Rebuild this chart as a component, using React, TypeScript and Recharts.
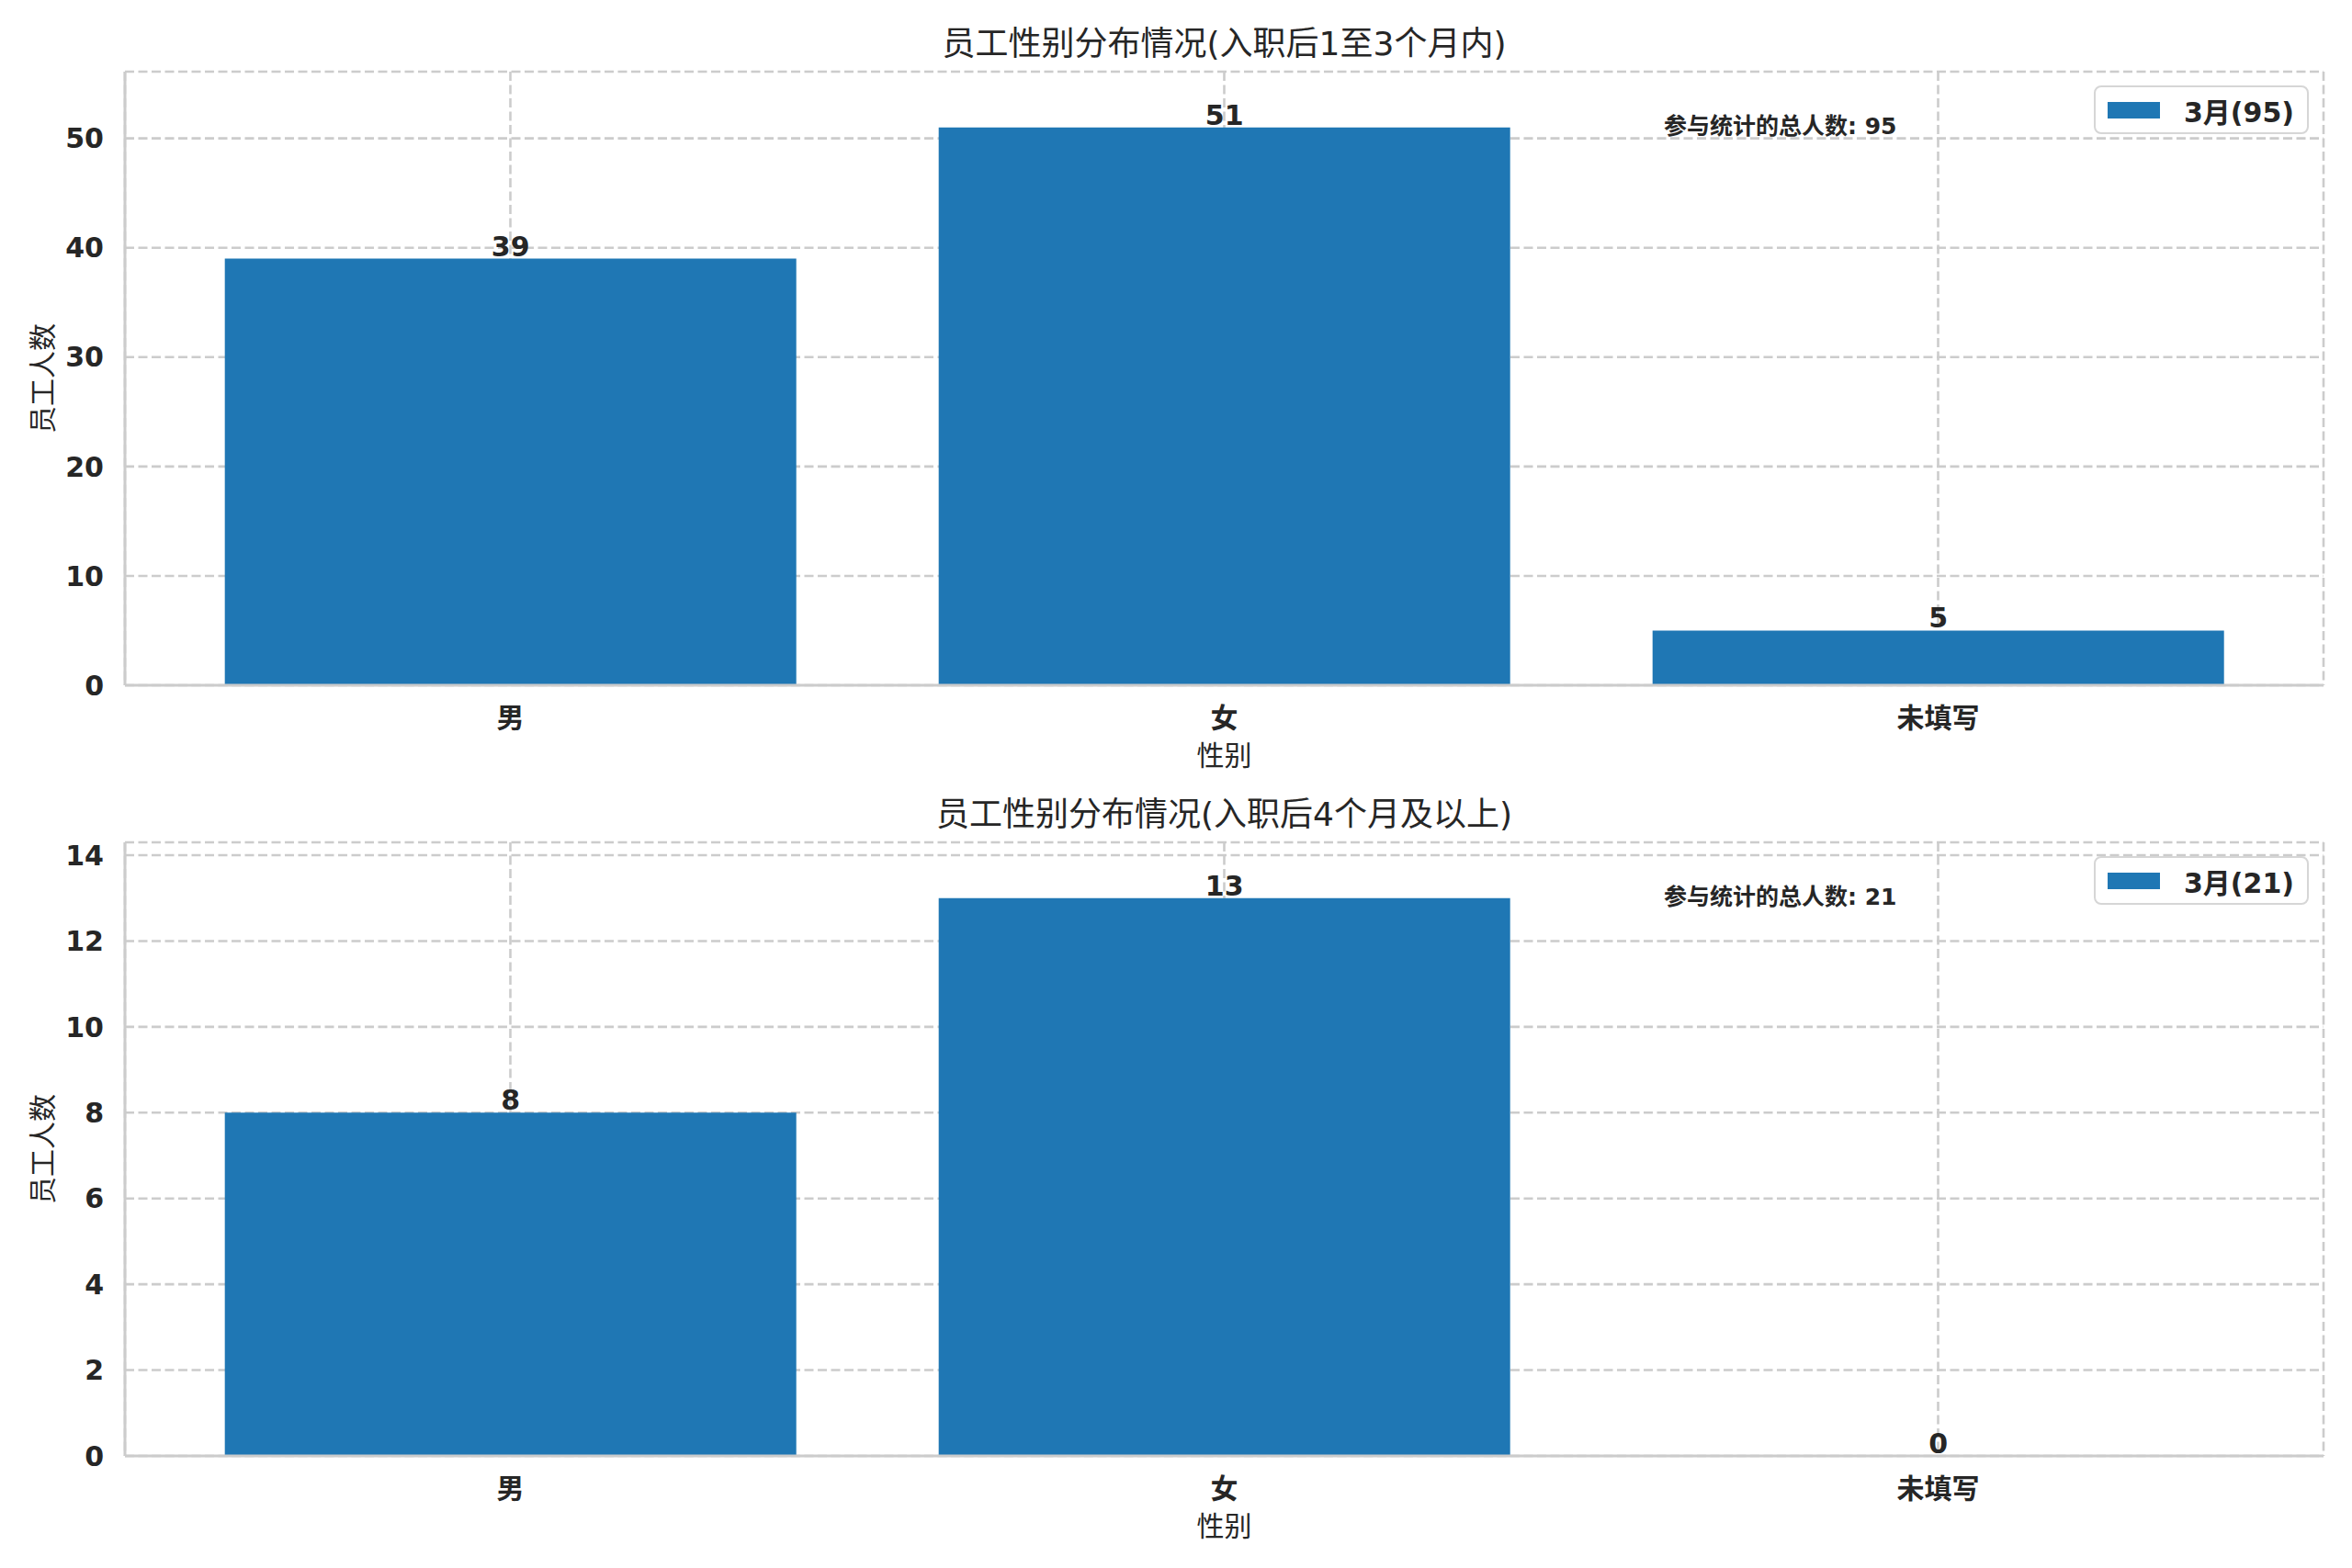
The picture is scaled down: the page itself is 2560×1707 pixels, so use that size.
import { BarChart, Bar, XAxis, YAxis, CartesianGrid, Legend, LabelList } from 'recharts';

const categories = ['男', '女', '未填写'];
const shortTermCounts = [39, 51, 5];
const longTermCounts = [8, 13, 0];
const shortTermTicks = [0, 10, 20, 30, 40, 50];
const longTermTicks = [0, 2, 4, 6, 8, 10, 12, 14];
const seriesLabel = '3月';
const panelTitles = ['员工性别分布情况(入职后1至3个月内)', '员工性别分布情况(入职后4个月及以上)'];
const yLabel = '员工人数';
const xLabel = '性别';
const totalLabel = '参与统计的总人数';

const W = 2560;
const H = 839;
const PLOT_TOP = 78;
const Y_AXIS_W = 136;
const X_AXIS_H = 93;
const RIGHT = 31;
const PLOT_BOTTOM = H - X_AXIS_H;
const PLOT_CX = (Y_AXIS_W + W - RIGHT) / 2;
const INK = '#262626';
const EDGE = '#cccccc';
const FONT = "'DejaVu Sans', 'Noto Sans CJK SC', sans-serif";

interface PanelProps {
  counts: number[];
  ticks: number[];
  title: string;
  top: number;
}

function Panel({ counts, ticks, title, top }: PanelProps) {
  const data = categories.map((name, i) => ({ name, value: counts[i] }));
  const total = counts.reduce((s, v) => s + v, 0);
  const yMax = Math.max(...counts) * 1.1;
  const midY = (PLOT_TOP + PLOT_BOTTOM) / 2;

  return (
    <div style={{ position: 'absolute', left: 0, top, width: W, height: H }}>
      <BarChart
        width={W}
        height={H}
        data={data}
        margin={{ top: PLOT_TOP, right: RIGHT, left: 0, bottom: 0 }}
        barCategoryGap="10%"
      >
        <CartesianGrid stroke={EDGE} strokeWidth={2.6} strokeDasharray="10 4.5" />
        <XAxis
          dataKey="name"
          height={X_AXIS_H}
          padding={{ left: 31, right: 31 }}
          tickLine={false}
          tickSize={0}
          tickMargin={25}
          axisLine={{ stroke: EDGE, strokeWidth: 3 }}
          tick={{ fontSize: 30, fontWeight: 700, fill: INK }}
        />
        <XAxis
          xAxisId="top"
          orientation="top"
          dataKey="name"
          height={0}
          tick={false}
          tickLine={false}
          axisLine={{ stroke: EDGE, strokeWidth: 3 }}
        />
        <YAxis
          type="number"
          width={Y_AXIS_W}
          domain={[0, yMax]}
          ticks={ticks}
          tickLine={false}
          tickSize={0}
          tickMargin={23}
          axisLine={{ stroke: EDGE, strokeWidth: 3 }}
          tick={{ fontSize: 30, fontWeight: 700, fill: INK }}
        />
        <YAxis
          yAxisId="right"
          orientation="right"
          type="number"
          width={0}
          domain={[0, yMax]}
          tick={false}
          tickLine={false}
          axisLine={{ stroke: EDGE, strokeWidth: 3 }}
        />
        <Legend
          layout="vertical"
          align="center"
          verticalAlign="middle"
          wrapperStyle={{ top: PLOT_TOP + 15, right: 47 }}
          content={(props: any) => (
            <div>
              {(props.payload || []).map((entry: any) => (
                <div
                  key={entry.value}
                  style={{
                    display: 'flex',
                    alignItems: 'center',
                    height: 53,
                    boxSizing: 'border-box',
                    padding: '0 14px 0 13px',
                    border: '2.5px solid #d6d6d6',
                    borderRadius: 8,
                    background: 'rgba(255,255,255,0.85)',
                    fontFamily: FONT,
                  }}
                >
                  <span style={{ width: 57, height: 18, background: '#1f77b4', display: 'inline-block' }} />
                  <span style={{ marginLeft: 26, fontSize: 30, fontWeight: 700, color: INK }}>{entry.value}</span>
                </div>
              ))}
            </div>
          )}
        />
        <Bar
          dataKey="value"
          name={`${seriesLabel}(${total})`}
          fill="#1f77b4"
          minPointSize={0.01}
          isAnimationActive={false}
        >
          <LabelList dataKey="value" position="top" offset={3} fill={INK} fontSize={30} fontWeight={700} />
        </Bar>
      </BarChart>
      <svg
        width={W}
        height={H}
        style={{ position: 'absolute', left: 0, top: 0, pointerEvents: 'none', overflow: 'visible' }}
        fontFamily={FONT}
      >
        <text x={PLOT_CX} y={PLOT_TOP - 18} textAnchor="middle" fontSize={36} fill={INK}>
          {title}
        </text>
        <text
          x={46}
          y={midY}
          textAnchor="middle"
          dominantBaseline="central"
          fontSize={30}
          fill={INK}
          transform={`rotate(-90 46 ${midY})`}
        >
          {yLabel}
        </text>
        <text x={PLOT_CX} y={PLOT_BOTTOM + 87} textAnchor="middle" fontSize={30} fill={INK}>
          {xLabel}
        </text>
        <text x={1811} y={PLOT_TOP + 68} fontSize={25} fontWeight={700} fill={INK}>
          {`${totalLabel}: ${total}`}
        </text>
      </svg>
    </div>
  );
}

export default function App() {
  return (
    <div
      style={{
        position: 'absolute',
        left: 0,
        top: 0,
        width: W,
        height: 1707,
        background: '#ffffff',
        fontFamily: FONT,
      }}
    >
      <Panel counts={shortTermCounts} ticks={shortTermTicks} title={panelTitles[0]} top={0} />
      <Panel counts={longTermCounts} ticks={longTermTicks} title={panelTitles[1]} top={839} />
    </div>
  );
}
